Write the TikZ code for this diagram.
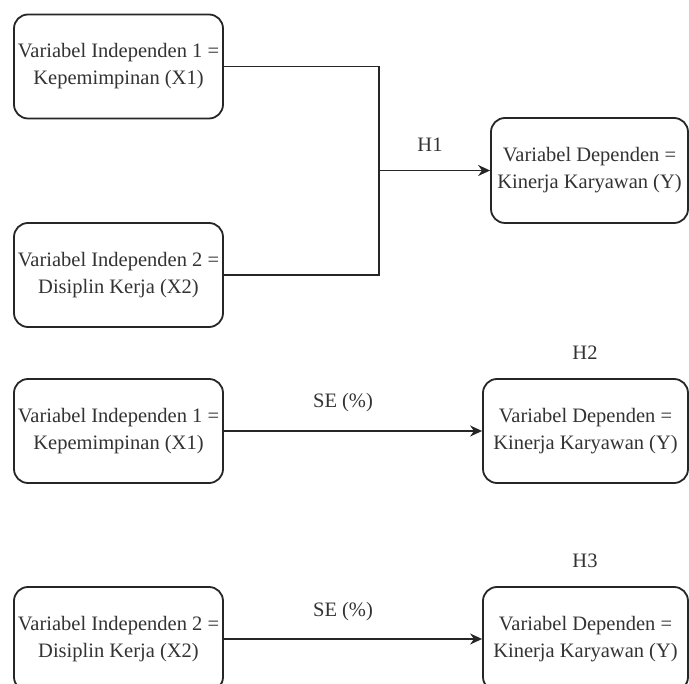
\documentclass[tikz,border=0pt]{standalone}
\usepackage{fontspec}
\setmainfont{Liberation Serif}
\usetikzlibrary{arrows.meta}
\tikzset{
  box/.style={draw=black!85, line width=1.8pt, rounded corners=14pt, fill=white,
    minimum width=209pt, minimum height=104pt, align=center, inner sep=0pt,
    font=\fontsize{20.5pt}{27pt}\selectfont, text=black!80},
  lbl/.style={font=\fontsize{20.5pt}{27pt}\selectfont, text=black!80, inner sep=0pt},
  conn/.style={draw=black!85, line width=1.8pt},
  arr/.style={conn, -{Stealth[length=12pt,width=11pt]}}
}
\begin{document}
\begin{tikzpicture}[x=1pt,y=-1pt]
\useasboundingbox (0,0) rectangle (689,684);
\clip (0,0) rectangle (689,684);
% top group
\node[box] (b1) at (118.5,66.5) {Variabel Independen 1 =\\Kepemimpinan (X1)};
\node[box] (b2) at (118.5,275) {Variabel Independen 2 =\\Disiplin Kerja (X2)};
\node[box, minimum width=197pt, minimum height=105pt] (b3) at (589.5,170.5) {Variabel Dependen =\\Kinerja Karyawan (Y)};
\coordinate (j) at (379,170.5);
\draw[conn] (b1.east) -| (j);
\draw[conn] (b2.east) -| (j);
\draw[arr] (j) -- (b3.west);
\node[lbl] (h1) at (430,145) {H1};
% row 2
\node[box] (b4) at (118.5,431) {Variabel Independen 1 =\\Kepemimpinan (X1)};
\node[box, minimum width=205pt] (b5) at (585.5,431) {Variabel Dependen =\\Kinerja Karyawan (Y)};
\draw[arr] (b4.east) -- (b5.west);
\node[lbl] (se1) at (343,403) {SE (\%)};
\node[lbl] (h2) at (585,353) {H2};
% row 3
\node[box] (b6) at (118.5,639) {Variabel Independen 2 =\\Disiplin Kerja (X2)};
\node[box, minimum width=205pt] (b7) at (585.5,639) {Variabel Dependen =\\Kinerja Karyawan (Y)};
\draw[arr] (b6.east) -- (b7.west);
\node[lbl] (se2) at (343,612) {SE (\%)};
\node[lbl] (h3) at (585,561) {H3};
\end{tikzpicture}
\end{document}
